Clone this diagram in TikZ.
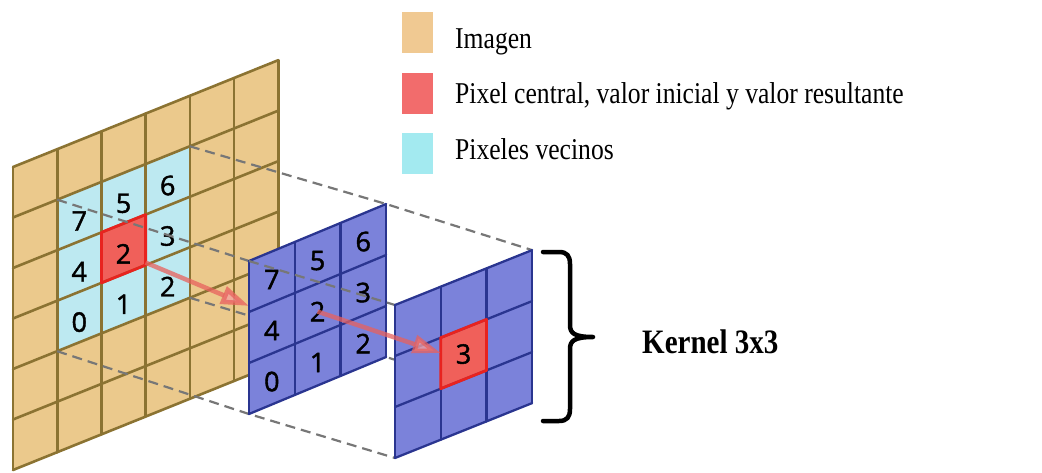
\documentclass[tikz,border=0pt]{standalone}
\usepackage{fontspec}
\usepackage{graphicx}
\setmainfont{Liberation Serif}
\newfontfamily\digitfont{Open Sans}[FakeBold=1.6]
\usetikzlibrary{arrows.meta}
\definecolor{imgtan}{HTML}{EBC98C}
\definecolor{imgline}{HTML}{8B7332}
\definecolor{imgcyan}{HTML}{BDE9F1}
\definecolor{legtan}{HTML}{F0C992}
\definecolor{legred}{HTML}{F26C6C}
\definecolor{legcyan}{HTML}{A3EAF0}
\definecolor{cellred}{HTML}{F0605A}
\definecolor{cellborder}{HTML}{E8231F}
\definecolor{kerblue}{HTML}{7B82DA}
\definecolor{kerline}{HTML}{2A3590}
\definecolor{dashgray}{HTML}{777777}
\definecolor{arrowred}{HTML}{E8615E}
\definecolor{arrowpink}{HTML}{F4A0A0}
\begin{document}
\begin{tikzpicture}[x=1pt,y=-1pt,
  imgplane/.style={shift={(13pt,-167pt)}, x={(44.2pt,17.8pt)}, y={(0pt,-50.5pt)}},
  kerplane/.style={shift={(249pt,-261pt)}, x={(45.7pt,19pt)}, y={(0pt,-51pt)}},
  outplane/.style={shift={(395pt,-305pt)}, x={(45.7pt,18.3pt)}, y={(0pt,-51pt)}},
  gridimg/.style={draw=imgline, line width=2.6pt, line cap=round},
  gridker/.style={draw=kerline, line width=2.3pt, line cap=round},
  redborder/.style={draw=cellborder, line width=2.8pt, line join=round},
  dashline/.style={draw=dashgray, line width=2.2pt, dash pattern=on 10pt off 6pt},
  redarrow/.style={draw=arrowred, line width=4.5pt, opacity=0.75,
    -{Triangle[length=28pt,width=18pt,fill=arrowpink]}},
  digit/.style={font=\digitfont\fontsize{27}{27}\selectfont, inner sep=0pt, text=black},
  legbox/.style={minimum width=31pt, minimum height=41pt, inner sep=0pt, draw=none},
  legtext/.style={anchor=base west, inner sep=0pt, font=\fontsize{25.6}{30}\selectfont},
  kertext/.style={anchor=base west, inner sep=0pt, font=\bfseries\fontsize{29}{32}\selectfont}]
\useasboundingbox (0,0) rectangle (1042,472);

% ---- coordinates of the planes
\begin{scope}[imgplane]
  \coordinate (cTL) at (1,1); \coordinate (cTR) at (4,1);
  \coordinate (cBL) at (1,4); \coordinate (cBR) at (4,4);
  \coordinate (a1s) at (3,2.95);
\end{scope}
\begin{scope}[kerplane]
  \coordinate (kTL) at (0,0); \coordinate (kTR) at (3,0);
  \coordinate (kBL) at (0,3); \coordinate (kBR) at (3,3);
  \coordinate (a1e) at (0,0.88);
  \coordinate (a2s) at (1.5,1.55);
\end{scope}
\begin{scope}[outplane]
  \coordinate (oTL) at (0,0); \coordinate (oTR) at (3,0);
  \coordinate (oBL) at (0,3); \coordinate (oBR) at (3,3);
  \coordinate (a2e) at (1,1.3);
\end{scope}

% ---- image plane
\begin{scope}[imgplane]
  \fill[imgtan] (0,0) -- (6,0) -- (6,6) -- (0,6) -- cycle;
  \fill[imgcyan] (1,1) -- (4,1) -- (4,4) -- (1,4) -- cycle;
  \fill[cellred] (2,2) -- (3,2) -- (3,3) -- (2,3) -- cycle;
  \foreach \i in {0,...,6} \draw[gridimg] (\i,0) -- (\i,6);
  \foreach \j in {0,...,6} \draw[gridimg] (0,\j) -- (6,\j);
  \draw[redborder] (2,2) -- (3,2) -- (3,3) -- (2,3) -- cycle;
  \node[digit] (i7) at (1.5,1.6) {7};
  \node[digit] (i5) at (2.5,1.6) {5};
  \node[digit] (i6) at (3.5,1.6) {6};
  \node[digit] (i4) at (1.5,2.6) {4};
  \node[digit] (i2) at (2.5,2.6) {2};
  \node[digit] (i3) at (3.5,2.6) {3};
  \node[digit] (i0) at (1.5,3.6) {0};
  \node[digit] (i1) at (2.5,3.6) {1};
  \node[digit] (i2b) at (3.5,3.6) {2};
\end{scope}

% ---- dashed projection lines (behind kernel / output)
\draw[dashline] (cTL) -- (kTL);
\draw[dashline] (cTR) -- (kTR) -- (oTR);
\draw[dashline] (cBL) -- (kBL) -- (oBL);
\draw[dashline] (cBR) -- (kBR) -- (oBR);

% ---- arrow image -> kernel
\draw[redarrow] (a1s) -- (a1e);

% ---- kernel plane
\begin{scope}[kerplane]
  \fill[kerblue] (0,0) -- (3,0) -- (3,3) -- (0,3) -- cycle;
  \foreach \i in {0,...,3} \draw[gridker] (\i,0) -- (\i,3);
  \foreach \j in {0,...,3} \draw[gridker] (0,\j) -- (3,\j);
  \node[digit] (k7) at (0.5,0.55) {7};
  \node[digit] (k5) at (1.5,0.55) {5};
  \node[digit] (k6) at (2.5,0.55) {6};
  \node[digit] (k4) at (0.5,1.55) {4};
  \node[digit] (k2) at (1.5,1.55) {2};
  \node[digit] (k3) at (2.5,1.55) {3};
  \node[digit] (k0) at (0.5,2.55) {0};
  \node[digit] (k1) at (1.5,2.55) {1};
  \node[digit] (k2b) at (2.5,2.55) {2};
\end{scope}

\draw[dashline] (kTL) -- (oTL);

% ---- output plane
\begin{scope}[outplane]
  \fill[kerblue] (0,0) -- (3,0) -- (3,3) -- (0,3) -- cycle;
  \fill[cellred] (1,1) -- (2,1) -- (2,2) -- (1,2) -- cycle;
  \foreach \i in {0,...,3} \draw[gridker] (\i,0) -- (\i,3);
  \foreach \j in {0,...,3} \draw[gridker] (0,\j) -- (3,\j);
  \draw[redborder] (1,1) -- (2,1) -- (2,2) -- (1,2) -- cycle;
  \node[digit] (o3) at (1.5,1.5) {3};
\end{scope}

% ---- arrow kernel -> output
\draw[redarrow] (a2s) -- (a2e);

% ---- legend
\node[legbox, fill=legtan, anchor=north west] (lg1) at (402,12) {};
\node[legbox, fill=legred, anchor=north west] (lg2) at (402,73) {};
\node[legbox, fill=legcyan, anchor=north west] (lg3) at (402,133) {};
\node[legtext] (lt1) at (455,48) {\scalebox{1}[1.18]{Imagen}};
\node[legtext] (lt2) at (455,103) {\scalebox{1}[1.18]{Pixel central, valor inicial y valor resultante}};
\node[legtext] (lt3) at (455,159) {\scalebox{1}[1.18]{Pixeles vecinos}};

% ---- brace and label
\draw[line width=4.5pt, line cap=round, line join=round]
  (543,252) -- (559,252) .. controls (567,252) and (570,256) .. (570,264)
  -- (570,325) .. controls (570,333) and (574,337) .. (593,337)
  .. controls (574,337) and (570,341) .. (570,349)
  -- (570,409) .. controls (570,417) and (567,421) .. (559,421) -- (543,421);
\node[kertext] (klabel) at (642,353) {\scalebox{1}[1.18]{Kernel 3x3}};
\end{tikzpicture}
\end{document}
